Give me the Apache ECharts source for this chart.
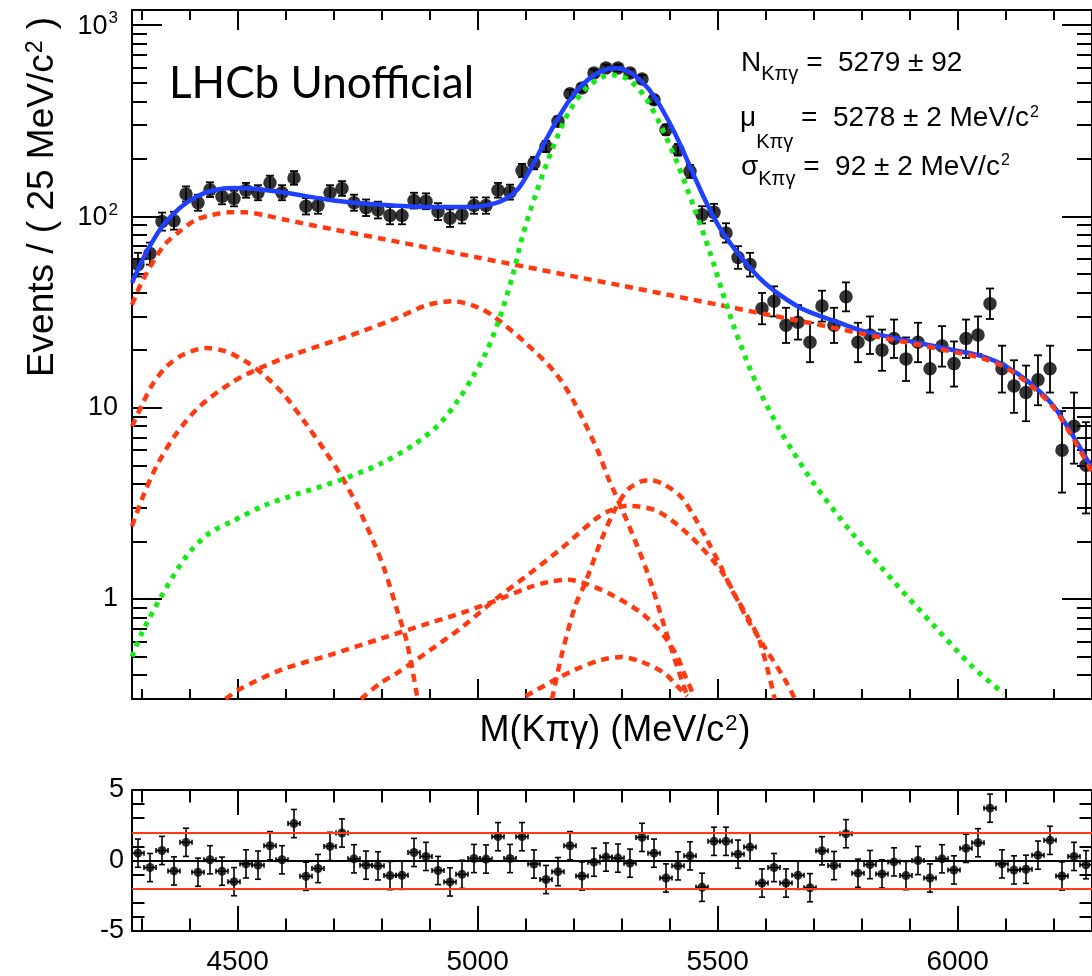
<!DOCTYPE html>
<html>
<head>
<meta charset="utf-8">
<script src="https://cdn.jsdelivr.net/npm/echarts@6/dist/echarts.min.js"></script>
<style>
html,body{margin:0;padding:0;background:#ffffff;}
#chart{width:1092px;height:976px;}
</style>
</head>
<body>
<div id="chart"></div>
<script>
// ---------------- data ----------------
const massBins = [4292.5,4317.5,4342.5,4367.5,4392.5,4417.5,4442.5,4467.5,4492.5,4517.5,
  4542.5,4567.5,4592.5,4617.5,4642.5,4667.5,4692.5,4717.5,4742.5,4767.5,
  4792.5,4817.5,4842.5,4867.5,4892.5,4917.5,4942.5,4967.5,4992.5,5017.5,
  5042.5,5067.5,5092.5,5117.5,5142.5,5167.5,5192.5,5217.5,5242.5,5267.5,
  5292.5,5317.5,5342.5,5367.5,5392.5,5417.5,5442.5,5467.5,5492.5,5517.5,
  5542.5,5567.5,5592.5,5617.5,5642.5,5667.5,5692.5,5717.5,5742.5,5767.5,
  5792.5,5817.5,5842.5,5867.5,5892.5,5917.5,5942.5,5967.5,5992.5,6017.5,
  6042.5,6067.5,6092.5,6117.5,6142.5,6167.5,6192.5,6217.5,6242.5,6267.5];

const counts = [56,64,94,95,131,118,138,127,124,137,
  133,150,133,159,113,114,133,140,118,111,
  108,101,101,121,120,106,98,102,114,114,
  137,134,174,190,232,314,438,469,562,597,
  597,562,523,407,284,223,172,102,105,82,
  61,56,33,36,27,28,22,34,27,38,
  22,24,20,23,18,22,16,21,17,23,
  24,35,16,13,12,14,16,6,8,5];

const errLow = [7.5,8.0,9.7,9.7,11.4,10.9,11.7,11.3,11.1,11.7,
  11.5,12.2,11.5,12.6,10.6,10.7,11.5,11.8,10.9,10.5,
  10.4,10.0,10.0,11.0,10.9,10.3,9.9,10.1,10.7,10.7,
  11.7,11.6,13.2,13.8,15.2,17.7,20.9,21.7,23.7,24.4,
  24.4,23.7,22.9,20.2,16.9,14.9,13.1,10.1,10.2,9.0,
  7.8,7.5,5.7,6.0,5.2,5.3,4.7,5.8,5.2,6.1,
  4.7,4.9,4.4,4.8,4.2,4.7,4.0,4.6,4.1,4.8,
  4.9,5.9,4.0,3.6,3.5,3.7,4.0,2.4,2.9,2.2];

const errHigh = [8.5,9.0,10.7,10.8,12.5,11.9,12.8,12.3,12.2,12.7,
  12.6,13.3,12.6,13.6,11.7,11.7,12.6,12.9,11.9,11.6,
  11.4,11.1,11.1,12.0,12.0,11.3,10.9,11.1,11.7,11.7,
  12.7,12.6,14.2,14.8,16.3,18.7,22.0,22.7,24.7,25.5,
  25.5,24.7,23.9,21.2,17.9,16.0,14.1,11.1,11.3,10.1,
  8.9,8.5,6.8,7.1,6.3,6.4,5.8,6.9,6.3,7.2,
  5.8,6.0,5.6,5.9,5.3,5.8,5.1,5.7,5.2,5.9,
  6.0,7.0,5.1,4.7,4.6,4.8,5.1,3.6,4.0,3.4];

const pulls = [0.52,-0.50,0.71,-0.74,1.29,-0.83,0.05,-0.76,-1.50,-0.24,
  -0.33,1.05,0.05,2.62,-1.12,-0.57,1.00,1.95,0.12,-0.33,
  -0.38,-1.07,-1.05,0.57,0.29,-0.71,-1.52,-0.98,0.14,0.10,
  1.69,0.14,1.69,-0.25,-1.35,-0.79,1.05,-1.10,-0.12,0.24,
  0.17,-0.19,1.64,0.52,-1.24,-0.38,0.33,-1.90,1.36,1.36,
  0.45,0.95,-1.60,-0.50,-1.60,-1.05,-1.93,0.69,-0.36,1.90,
  -0.90,-0.29,-0.95,-0.10,-1.07,0.00,-1.24,0.12,-0.67,0.86,
  1.26,3.71,-0.24,-0.67,-0.62,0.38,1.43,-1.10,0.29,-0.30];
const pullError = 1.0;
const binHalfWidth = 12.5;

// fit curves, [mass, events]
const totalFit = [[4280,45],[4300,58],[4320,72],[4345,90],[4380,111],[4415,127],[4450,137],[4490,141],
  [4530,140],[4600,133],[4700,121],[4800,115],[4900,112],[4980,112],[5030,116],[5060,124],[5085,140],
  [5110,176],[5135,232],[5162,308],[5189,398],[5217,484],[5245,552],[5270,588],[5290,595],[5313,575],
  [5341,509],[5368,424],[5396,322],[5423,235],[5451,163],[5478,116],[5506,86],[5547,62],[5588,47.5],
  [5629,39],[5670,33.5],[5700,31],[5750,28],[5800,25.3],[5900,22.3],[6000,19.8],[6050,18.6],[6100,16.5],
  [6150,13.5],[6200,10.2],[6250,6.5],[6280,4.8]];

const signalFit = [[4280,0.50],[4300,0.66],[4340,1.02],[4393,1.67],[4440,2.2],[4489,2.55],[4558,3.1],
  [4626,3.55],[4716,4.2],[4798,5.1],[4867,6.4],[4920,8.2],[4960,11],[4990,14.5],[5018,19.5],[5045,29],
  [5073,49],[5093,78],[5121,130],[5155,223],[5189,347],[5224,462],[5258,533],[5283,548],[5313,522],
  [5348,424],[5382,297],[5416,190],[5450,113],[5485,64],[5509,41],[5533,27],[5560,17.8],[5588,12.2],
  [5629,7.7],[5657,5.9],[5701,4.0],[5780,2.21],[5870,1.21],[5952,0.72],[6028,0.45],[6096,0.32]];

const bkgCombinatorial = [[4280,34.5],[4303,46.7],[4345,69.7],[4379,83.5],[4413,95.8],[4448,101.9],
  [4482,105],[4516,105],[4560,101],[4600,96],[4700,85.5],[4800,76.5],[4900,68.3],[5000,61],[5100,54.5],
  [5200,48.6],[5300,43.5],[5400,38.8],[5500,34.6],[5600,30.8],[5700,27.5],[5800,24.4],[5900,21.8],
  [6000,19.4],[6050,18.2],[6100,16.2],[6150,13.2],[6200,10],[6250,6.3],[6280,4.6]];

const bkgLowA = [[4280,8.0],[4303,10.6],[4324,13.4],[4352,16.4],[4386,18.9],[4434,20.5],[4475,19.7],[4516,17.5],
  [4558,14.6],[4599,11.5],[4640,8.4],[4681,6.0],[4716,4.4],[4750,3.05],[4781,2.05],[4805,1.45],[4832,0.88],
  [4853,0.59],[4874,0.31]];

const bkgLowB = [[4280,2.40],[4303,3.44],[4331,4.94],[4372,7.3],[4420,10.1],[4489,13.6],[4558,16.6],[4626,19.3],
  [4729,23.6],[4826,29],[4894,34.3],[4949,36],[5004,33.2],[5035,29.8],[5100,21.8],[5162,15.2],[5203,10.5],
  [5251,5.9],[5272,4.3],[5313,2.5],[5354,1.37],[5389,0.72],[5416,0.44],[5437,0.31]];

const bkgPeakA = [[4475,0.30],[4503,0.336],[4592,0.427],[4695,0.512],[4798,0.62],[4901,0.75],[4970,0.85],
  [5038,0.98],[5107,1.15],[5150,1.23],[5189,1.26],[5217,1.22],[5272,1.075],[5341,0.845],[5389,0.638],
  [5416,0.50],[5430,0.41],[5451,0.31]];

const bkgPeakB = [[4757,0.30],[4798,0.364],[4832,0.41],[4901,0.54],[4970,0.72],[5038,1.0],[5107,1.35],
  [5176,1.85],[5244,2.6],[5272,2.87],[5313,3.07],[5375,2.87],[5444,2.12],[5512,1.35],[5560,0.80],
  [5600,0.55],[5640,0.38],[5661,0.30]];

const bkgPeakC = [[5155,0.30],[5176,0.52],[5203,0.915],[5224,1.21],[5258,2.04],[5286,2.93],[5313,3.73],
  [5341,4.12],[5361,4.17],[5389,3.96],[5423,3.44],[5451,2.70],[5478,2.04],[5506,1.49],[5533,1.075],
  [5561,0.82],[5588,0.60],[5619,0.30]];

const bkgPeakD = [[5100,0.31],[5162,0.379],[5203,0.427],[5258,0.48],[5300,0.497],[5341,0.47],[5389,0.41],
  [5416,0.35],[5437,0.31]];

// axis ticks and labels
const xRange = [4280, 6280];
const xMajorTicks = [4500, 5000, 5500, 6000];
const xMinorTicks = [4300,4400,4600,4700,4800,4900,5100,5200,5300,5400,5600,5700,5800,5900,6100,6200];
const xTickLabels = [4500, 5000, 5500, 6000];
const yRange = [0.3, 1200];
const yDecadeTicks = [1, 10, 100, 1000];
const yMinorTicks = [0.4,0.5,0.6,0.7,0.8,0.9,2,3,4,5,6,7,8,9,20,30,40,50,60,70,80,90,
  200,300,400,500,600,700,800,900];
const pullRange = [-5, 5];
const pullMajorTicks = [-5, 0, 5];
const pullMinorTicks = [-4,-3,-2,-1,1,2,3,4];
const pullBands = [-2, 2];

// ---------------- chart ----------------
const FONT = '"Liberation Sans", Arial, Helvetica, sans-serif';
const BLACK = '#000000';
const RED = '#ff3a10';
const GREEN = '#14ea14';
const BLUE = '#1f40ff';

function xAx(grid, pos, ticks, len, line, labels) {
  return {
    type: 'value', gridIndex: grid, position: pos, min: xRange[0], max: xRange[1],
    axisLine: {show: line, onZero: false, lineStyle: {color: BLACK, width: 2}},
    axisTick: {show: true, inside: true, length: len, customValues: ticks, lineStyle: {color: BLACK, width: 2}},
    axisLabel: labels ? {show: true, customValues: labels, fontSize: 28, fontFamily: FONT, color: BLACK, margin: 17,
                         formatter: function (v) { return String(Math.round(v)); }}
                      : {show: false},
    splitLine: {show: false}
  };
}
function yLog(pos, ticks, len, line, labels) {
  return {
    type: 'log', logBase: 10, gridIndex: 0, position: pos, min: yRange[0], max: yRange[1],
    axisLine: {show: line, onZero: false, lineStyle: {color: BLACK, width: 2}},
    axisTick: {show: true, inside: true, length: len, customValues: ticks, lineStyle: {color: BLACK, width: 2}},
    axisLabel: labels ? {
      show: true, customValues: labels, fontSize: 27, fontFamily: FONT, color: BLACK, margin: 14,
      formatter: function (v) {
        const e = Math.round(Math.log10(v));
        if (e <= 0) return '1';
        if (e === 1) return '10';
        return '{b|10}{s|' + e + '}';
      },
      rich: {
        b: {fontSize: 27, fontFamily: FONT, color: BLACK, verticalAlign: 'top', padding: [3, 0, 0, 0]},
        s: {fontSize: 17, fontFamily: FONT, color: BLACK, verticalAlign: 'top', padding: [0, 0, 0, 1]}
      }
    } : {show: false},
    splitLine: {show: false}
  };
}
function yPull(pos, ticks, len, line, labels) {
  return {
    type: 'value', gridIndex: 1, position: pos, min: pullRange[0], max: pullRange[1],
    axisLine: {show: line, onZero: false, lineStyle: {color: BLACK, width: 2}},
    axisTick: {show: true, inside: true, length: len, customValues: ticks, lineStyle: {color: BLACK, width: 2}},
    axisLabel: labels ? {show: true, customValues: labels, fontSize: 27, fontFamily: FONT, color: BLACK, margin: 8}
                      : {show: false},
    splitLine: {show: false}
  };
}

function renderDataErr(params, api) {
  const x = api.value(0), y = api.value(1), lo = api.value(2), hi = api.value(3);
  const pLo = api.coord([x, y - lo]);
  const pHi = api.coord([x, y + hi]);
  const cap = 4;
  const st = {stroke: BLACK, lineWidth: 1.8};
  return {type: 'group', children: [
    {type: 'line', shape: {x1: pLo[0], y1: pLo[1], x2: pHi[0], y2: pHi[1]}, style: st},
    {type: 'line', shape: {x1: pLo[0] - cap, y1: pLo[1], x2: pLo[0] + cap, y2: pLo[1]}, style: st},
    {type: 'line', shape: {x1: pHi[0] - cap, y1: pHi[1], x2: pHi[0] + cap, y2: pHi[1]}, style: st}
  ]};
}
function renderPullErr(params, api) {
  const x = api.value(0), y = api.value(1);
  const pL = api.coord([x - binHalfWidth, y]);
  const pR = api.coord([x + binHalfWidth, y]);
  const pB = api.coord([x, y - pullError]);
  const pT = api.coord([x, y + pullError]);
  const capV = 2.5, capH = 3;
  const st = {stroke: BLACK, lineWidth: 1.6};
  return {type: 'group', children: [
    {type: 'line', shape: {x1: pL[0], y1: pL[1], x2: pR[0], y2: pR[1]}, style: st},
    {type: 'line', shape: {x1: pL[0], y1: pL[1] - capV, x2: pL[0], y2: pL[1] + capV}, style: st},
    {type: 'line', shape: {x1: pR[0], y1: pR[1] - capV, x2: pR[0], y2: pR[1] + capV}, style: st},
    {type: 'line', shape: {x1: pB[0], y1: pB[1], x2: pT[0], y2: pT[1]}, style: st},
    {type: 'line', shape: {x1: pB[0] - capH, y1: pB[1], x2: pB[0] + capH, y2: pB[1]}, style: st},
    {type: 'line', shape: {x1: pT[0] - capH, y1: pT[1], x2: pT[0] + capH, y2: pT[1]}, style: st}
  ]};
}

function curve(name, data, color, width, dash, z) {
  return {
    name: name, type: 'line', xAxisIndex: 0, yAxisIndex: 0, data: data,
    showSymbol: false, symbol: 'none', smooth: 0.3, clip: true, z: z,
    lineStyle: {color: color, width: width, type: dash, cap: 'butt'}, silent: true
  };
}

const dataPoints = massBins.map((m, i) => [m, counts[i], errLow[i], errHigh[i]]);
const pullPoints = massBins.map((m, i) => [m, pulls[i]]);

const option = {
  animation: false,
  backgroundColor: '#ffffff',
  grid: [
    {left: 132, top: 10, width: 970, height: 689, containLabel: false},
    {left: 132, top: 790, width: 970, height: 142, containLabel: false}
  ],
  xAxis: [
    xAx(0, 'bottom', xMajorTicks, 20, true, null),
    xAx(0, 'bottom', xMinorTicks, 10, false, null),
    xAx(0, 'top', xMajorTicks, 20, true, null),
    xAx(0, 'top', xMinorTicks, 10, false, null),
    xAx(1, 'bottom', xMajorTicks, 25, true, xTickLabels),
    xAx(1, 'bottom', xMinorTicks, 12.5, false, null),
    xAx(1, 'top', xMajorTicks, 25, true, null),
    xAx(1, 'top', xMinorTicks, 12.5, false, null)
  ],
  yAxis: [
    yLog('left', yDecadeTicks, 30, true, yDecadeTicks),
    yLog('left', yMinorTicks, 15, false, null),
    yLog('right', yDecadeTicks, 30, true, null),
    yLog('right', yMinorTicks, 15, false, null),
    yPull('left', pullMajorTicks, 25, true, pullMajorTicks),
    yPull('left', pullMinorTicks, 12.5, false, null),
    yPull('right', pullMajorTicks, 25, true, null),
    yPull('right', pullMinorTicks, 12.5, false, null)
  ],
  series: [
    {type: 'custom', name: 'dataErr', xAxisIndex: 0, yAxisIndex: 0, data: dataPoints,
     renderItem: renderDataErr, encode: {x: 0, y: 1}, clip: true, z: 2, silent: true},
    {type: 'scatter', name: 'data', xAxisIndex: 0, yAxisIndex: 0, data: dataPoints.map(d => [d[0], d[1]]),
     symbol: 'circle', symbolSize: 13.5, itemStyle: {color: BLACK}, z: 3, silent: true, clip: true},
    curve('total', totalFit, BLUE, 4.5, 'solid', 4),
    curve('bkgCombinatorial', bkgCombinatorial, RED, 4.5, [8, 6], 5),
    curve('bkgLowA', bkgLowA, RED, 4.5, [8, 6], 5),
    curve('bkgLowB', bkgLowB, RED, 4.5, [8, 6], 5),
    curve('bkgPeakA', bkgPeakA, RED, 4.5, [8, 6], 5),
    curve('bkgPeakB', bkgPeakB, RED, 4.5, [8, 6], 5),
    curve('bkgPeakC', bkgPeakC, RED, 4.5, [8, 6], 5),
    curve('bkgPeakD', bkgPeakD, RED, 4.5, [8, 6], 5),
    curve('signal', signalFit, GREEN, 5, [5, 6], 5),
    {type: 'line', name: 'pullLines', xAxisIndex: 4, yAxisIndex: 4, data: [], z: 1, silent: true,
     markLine: {silent: true, symbol: ['none', 'none'], label: {show: false}, animation: false,
       data: [
         {yAxis: 0, lineStyle: {color: BLACK, width: 1.8, type: 'solid'}},
         {yAxis: pullBands[1], lineStyle: {color: RED, width: 1.8, type: 'solid'}},
         {yAxis: pullBands[0], lineStyle: {color: RED, width: 1.8, type: 'solid'}}
       ]}},
    {type: 'custom', name: 'pullErr', xAxisIndex: 4, yAxisIndex: 4, data: pullPoints,
     renderItem: renderPullErr, encode: {x: 0, y: 1}, clip: true, z: 2, silent: true},
    {type: 'scatter', name: 'pull', xAxisIndex: 4, yAxisIndex: 4, data: pullPoints,
     symbol: 'circle', symbolSize: 9, itemStyle: {color: BLACK}, z: 3, silent: true, clip: true}
  ],
  graphic: [
    {type: 'text', x: 169, y: 84, silent: true,
     style: {text: 'LHCb Unofficial', font: '44px Lato, "Open Sans", sans-serif', fill: BLACK,
             align: 'left', verticalAlign: 'middle'}},
    {type: 'text', x: 741, y: 49.5, silent: true,
     style: {text: '{m|N}{s|Kπγ}{m| =  5279 ± 92}', align: 'left', verticalAlign: 'top',
       rich: {m: {fontSize: 28, fontFamily: FONT, color: BLACK, verticalAlign: 'top'},
              s: {fontSize: 20, fontFamily: FONT, color: BLACK, verticalAlign: 'top', padding: [15, 0, 0, 0]}}}},
    {type: 'text', x: 740, y: 104.5, silent: true,
     style: {text: '{m|μ}{s|Kπγ}{m| =  5278 ± 2 MeV/c}{p|2}', align: 'left', verticalAlign: 'top',
       rich: {m: {fontSize: 28, fontFamily: FONT, color: BLACK, verticalAlign: 'top'},
              s: {fontSize: 20, fontFamily: FONT, color: BLACK, verticalAlign: 'top', padding: [28, 0, 0, 0]},
              p: {fontSize: 16, fontFamily: FONT, color: BLACK, verticalAlign: 'top', padding: [0, 0, 0, 1]}}}},
    {type: 'text', x: 741, y: 153, silent: true,
     style: {text: '{m|σ}{s|Kπγ}{m| =  92 ± 2 MeV/c}{p|2}', align: 'left', verticalAlign: 'top',
       rich: {m: {fontSize: 28, fontFamily: FONT, color: BLACK, verticalAlign: 'top'},
              s: {fontSize: 20, fontFamily: FONT, color: BLACK, verticalAlign: 'top', padding: [16, 0, 0, 0]},
              p: {fontSize: 16, fontFamily: FONT, color: BLACK, verticalAlign: 'top', padding: [0, 0, 0, 1]}}}},
    {type: 'text', x: 615, y: 731, silent: true,
     style: {text: '{t|M(Kπγ) (MeV/c}{p|2}{t|)}', align: 'center', verticalAlign: 'middle',
       rich: {t: {fontSize: 36, fontFamily: FONT, color: BLACK, verticalAlign: 'top'},
              p: {fontSize: 22, fontFamily: FONT, color: BLACK, verticalAlign: 'top', padding: [0, 1, 0, 1]}}}},
    {type: 'text', x: 43, y: 197, rotation: Math.PI / 2, silent: true,
     style: {text: '{t|Events / ( 25 MeV/c}{p|2}{t| )}', align: 'center', verticalAlign: 'middle',
       rich: {t: {fontSize: 37, fontFamily: FONT, color: BLACK, verticalAlign: 'top'},
              p: {fontSize: 23, fontFamily: FONT, color: BLACK, verticalAlign: 'top', padding: [0, 1, 0, 1]}}}}
  ]
};

const chart = echarts.init(document.getElementById('chart'), null, {renderer: 'canvas', width: 1092, height: 976});
chart.setOption(option);
</script>
</body>
</html>
